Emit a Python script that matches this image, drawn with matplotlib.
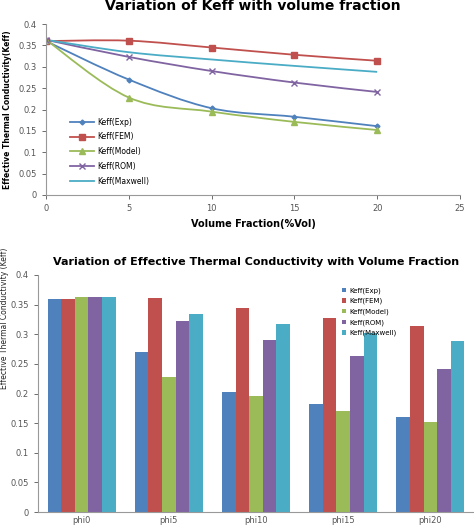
import numpy as np
import matplotlib.pyplot as plt
from matplotlib.path import Path
from matplotlib.patches import PathPatch

vol_fraction = [0, 5, 10, 15, 20]
categories = ["phi0", "phi5", "phi10", "phi15", "phi20"]
series_names = ["Keff(Exp)", "Keff(FEM)", "Keff(Model)", "Keff(ROM)", "Keff(Maxwell)"]
keff_exp = [0.360, 0.270, 0.203, 0.183, 0.161]
keff_fem = [0.360, 0.361, 0.345, 0.328, 0.314]
keff_model = [0.363, 0.228, 0.195, 0.171, 0.152]
keff_rom = [0.363, 0.323, 0.290, 0.263, 0.241]
keff_maxwell = [0.363, 0.334, 0.317, 0.302, 0.288]

series = [keff_exp, keff_fem, keff_model, keff_rom, keff_maxwell]
colors = ["#4F81BD", "#C0504D", "#9BBB59", "#8064A2", "#4BACC6"]
markers = ["D", "s", "^", "x", None]
msizes = [2.5, 4.5, 4.5, 5, 0]

TICK_KW = dict(labelsize=6, colors="#555555", length=3, width=0.6)
YTICK_LABELS = ["0", "0.05", "0.1", "0.15", "0.2", "0.25", "0.3", "0.35", "0.4"]


def smooth_path(x, y):
    # Excel-style smoothed line: Catmull-Rom through the data as cubic Beziers
    x = np.asarray(x, float)
    y = np.asarray(y, float)
    verts = [(x[0], y[0])]
    codes = [Path.MOVETO]
    n = len(x)
    for i in range(n - 1):
        x0, y0 = (x[i - 1], y[i - 1]) if i > 0 else (x[i], y[i])
        x3, y3 = (x[i + 2], y[i + 2]) if i + 2 < n else (x[i + 1], y[i + 1])
        c1 = (x[i] + (x[i + 1] - x0) / 6, y[i] + (y[i + 1] - y0) / 6)
        c2 = (x[i + 1] - (x3 - x[i]) / 6, y[i + 1] - (y3 - y[i]) / 6)
        verts += [c1, c2, (x[i + 1], y[i + 1])]
        codes += [Path.CURVE4] * 3
    return Path(verts, codes)


def style_axes(ax):
    for side in ["top", "right"]:
        ax.spines[side].set_visible(False)
    for side in ["left", "bottom"]:
        ax.spines[side].set_color("#999999")
        ax.spines[side].set_linewidth(0.8)
    ax.tick_params(**TICK_KW)


fig = plt.figure(figsize=(4.74, 5.29), dpi=100)

# ---- line chart ----
ax1 = fig.add_axes([46 / 474, 1 - 195 / 529, 414 / 474, 171 / 529])
for vals, name, c, m, ms in zip(series, series_names, colors, markers, msizes):
    ax1.add_patch(PathPatch(smooth_path(vol_fraction, vals), facecolor="none",
                            edgecolor=c, lw=1.3))
    ax1.plot(vol_fraction, vals, linestyle="none", marker=m, color=c,
             markersize=ms, markeredgewidth=1.0)
    ax1.plot([], [], color=c, lw=1.3, marker=m, markersize=ms, label=name)
ax1.set_xlim(0, 25)
ax1.set_ylim(0, 0.4)
ax1.set_xticks([0, 5, 10, 15, 20, 25])
ax1.set_yticks(np.arange(0, 0.41, 0.05))
ax1.set_yticklabels(YTICK_LABELS)
style_axes(ax1)
ax1.set_xlabel("Volume Fraction(%Vol)", fontsize=7, fontweight="bold", labelpad=4)
ax1.set_ylabel("Effective Thermal Conductivity(Keff)", fontsize=5.5,
               fontweight="bold", labelpad=5)
ax1.set_title("Variation of Keff with volume fraction", fontsize=10,
              fontweight="bold", pad=10)
ax1.legend(loc="upper left", bbox_to_anchor=(0.05, 0.47), frameon=False,
           fontsize=5.5, handlelength=3.2, labelspacing=0.75, borderaxespad=0,
           handletextpad=0.4)

# ---- bar chart ----
ax2 = fig.add_axes([38 / 474, 1 - 512 / 529, 436 / 474, 237 / 529])
x = np.arange(len(categories))
width = 0.156
for i, (vals, name, c) in enumerate(zip(series, series_names, colors)):
    ax2.bar(x + (i - 2) * width, vals, width, color=c, label=name)
ax2.set_xlim(-0.5, len(categories) - 0.5)
ax2.set_ylim(0, 0.4)
ax2.set_xticks(x)
ax2.set_xticklabels(categories)
ax2.set_yticks(np.arange(0, 0.41, 0.05))
ax2.set_yticklabels(YTICK_LABELS)
style_axes(ax2)
ax2.tick_params(axis="x", length=0, pad=3)
ax2.set_title("Variation of Effective Thermal Conductivity with Volume Fraction",
              fontsize=8, fontweight="bold", pad=7)
fig.text(0.009, 1 - 318 / 529, "Effective Thermal Conductivity (Keff)",
         rotation=90, fontsize=5.5, ha="center", va="center", color="#222222")
ax2.legend(loc="upper left", bbox_to_anchor=(0.69, 0.96), frameon=False,
           fontsize=5, handlelength=0.6, handleheight=0.6, labelspacing=0.6,
           borderaxespad=0, handletextpad=0.5)

fig.savefig("out.png", dpi=100)
